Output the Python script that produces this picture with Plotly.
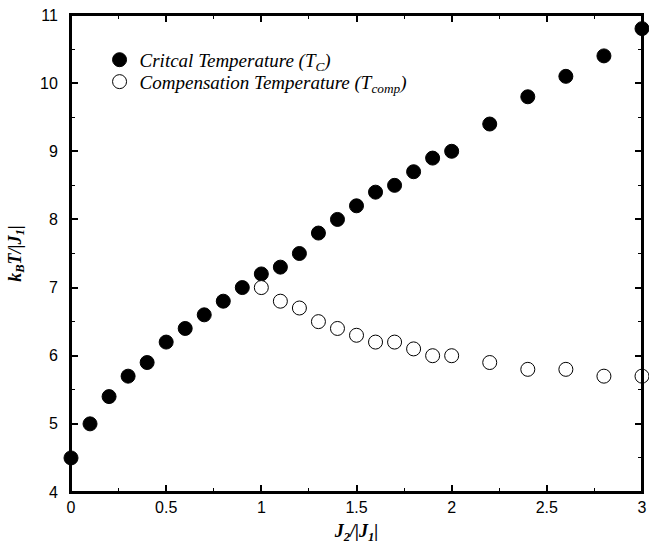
import plotly.graph_objects as go

tc_x = [0.0, 0.1, 0.2, 0.3, 0.4, 0.5, 0.6, 0.7, 0.8, 0.9, 1.0, 1.1, 1.2, 1.3, 1.4,
        1.5, 1.6, 1.7, 1.8, 1.9, 2.0, 2.2, 2.4, 2.6, 2.8, 3.0]
tc_y = [4.5, 5.0, 5.4, 5.7, 5.9, 6.2, 6.4, 6.6, 6.8, 7.0, 7.2, 7.3, 7.5, 7.8, 8.0,
        8.2, 8.4, 8.5, 8.7, 8.9, 9.0, 9.4, 9.8, 10.1, 10.4, 10.8]
tcomp_x = [1.0, 1.1, 1.2, 1.3, 1.4, 1.5, 1.6, 1.7, 1.8, 1.9, 2.0, 2.2, 2.4, 2.6, 2.8, 3.0]
tcomp_y = [7.0, 6.8, 6.7, 6.5, 6.4, 6.3, 6.2, 6.2, 6.1, 6.0, 6.0, 5.9, 5.8, 5.8, 5.7, 5.7]

SERIF = "Liberation Serif, Times New Roman, serif"

fig = go.Figure()
fig.add_trace(go.Scatter(
    x=tc_x, y=tc_y, mode="markers", cliponaxis=False, legend="legend",
    name="<i>Critcal Temperature (T<sub>C</sub>)</i>",
    marker=dict(size=14, color="black", line=dict(color="black", width=1)),
))
fig.add_trace(go.Scatter(
    x=tcomp_x, y=tcomp_y, mode="markers", cliponaxis=False, legend="legend2",
    name="<i>Compensation Temperature (T<sub>comp</sub>)</i>",
    marker=dict(size=14, color="white", line=dict(color="black", width=1)),
))

axis_common = dict(
    showline=True, linecolor="#000000", linewidth=2, mirror="allticks",
    ticks="inside", ticklen=7, tickwidth=1.5, tickcolor="black",
    showgrid=False, zeroline=False, automargin=False,
    ticklabeloverflow="allow",
    tickfont=dict(family="Liberation Sans, Arial, sans-serif", size=16, color="black"),
)

fig.update_xaxes(
    range=[0, 3], dtick=0.5, tick0=0,
    minor=dict(dtick=0.25, ticks="inside", ticklen=4, tickwidth=1, tickcolor="black"),
    title=dict(text="<b><i>J<sub>2</sub>/|J<sub>1</sub>|</i></b>",
               font=dict(family=SERIF, size=18, color="black"),
               standoff=9),
    **axis_common,
)
fig.update_yaxes(
    range=[4, 11], dtick=1, tick0=4,
    minor=dict(dtick=0.5, ticks="inside", ticklen=4, tickwidth=1, tickcolor="black"),
    ticklabelstandoff=8,
    title=dict(text="<b><i>k<sub>B</sub>T/|J<sub>1</sub>|</i></b>",
               font=dict(family=SERIF, size=18, color="black"),
               standoff=14),
    **axis_common,
)

# plot frame
fig.add_shape(type="rect", xref="paper", yref="paper", x0=0, y0=0, x1=1, y1=1,
              line=dict(color="#000000", width=2), fillcolor="rgba(0,0,0,0)",
              layer="above")

legend_style = dict(
    xanchor="left", yanchor="middle",
    bgcolor="rgba(0,0,0,0)",
    font=dict(family=SERIF, size=19, color="black"),
    itemwidth=30,
)

fig.update_layout(
    template="none",
    width=649, height=549,
    margin=dict(l=71, r=7, t=15, b=57),
    paper_bgcolor="white", plot_bgcolor="white",
    showlegend=True,
    legend=dict(x=0.05, y=0.906, **legend_style),
    legend2=dict(x=0.05, y=0.860, **legend_style),
)

fig.write_html("out.html", config={"displayModeBar": False},
               post_script="document.body.style.margin='0';")
